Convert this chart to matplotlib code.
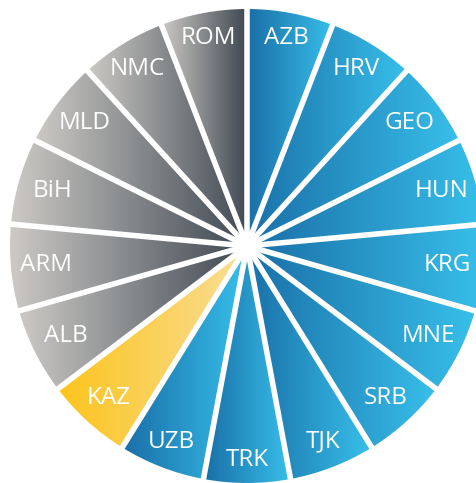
import numpy as np
import matplotlib.pyplot as plt
from matplotlib.colors import LinearSegmentedColormap

labels = ["AZB", "HRV", "GEO", "HUN", "KRG", "MNE", "SRB", "TJK", "TRK",
          "UZB", "KAZ", "ALB", "ARM", "BiH", "MLD", "NMC", "ROM"]
groups = ["blue"] * 10 + ["yellow"] + ["grey"] * 6
values = [1] * len(labels)

ramps = {
    "blue": ["#196ea6", "#38bfea"],
    "yellow": ["#fcc41c", "#f9de98"],
    "grey": ["#cdcac6", "#3e4751"],
}
cmaps = {k: LinearSegmentedColormap.from_list(k, v) for k, v in ramps.items()}

W, H = 476, 483
R = 237.0
cx, cy = 247, 237  # pie centre in pixels from bottom-left

fig = plt.figure(figsize=(W / 100, H / 100), dpi=100)
ax = fig.add_axes([0, 0, 1, 1])

wedges, texts = ax.pie(values, labels=labels, startangle=90, counterclock=False,
                       radius=1,
                       wedgeprops=dict(facecolor="none", edgecolor="none"),
                       textprops=dict(color="white", fontsize=17.5, family="Open Sans"))
ax.set_xlim(-cx / R, (W - cx) / R)
ax.set_ylim(-cy / R, (H - cy) / R)
ax.set_aspect("equal")
ax.axis("off")

grad = np.linspace(0, 1, 256).reshape(1, -1)
for w, g in zip(wedges, groups):
    ext = w.get_path().get_extents()
    im = ax.imshow(grad, cmap=cmaps[g], aspect="auto", interpolation="bilinear",
                   extent=[ext.x0, ext.x1, ext.y0, ext.y1], zorder=1)
    im.set_clip_path(w)

# labels sit a bit further in on the left/right sides (wider text boxes)
for w, t in zip(wedges, texts):
    mid = np.deg2rad((w.theta1 + w.theta2) / 2)
    r = 0.905 - 0.055 * abs(np.cos(mid))
    t.set_position((r * np.cos(mid), r * np.sin(mid)))
    t.set_ha("center")
    t.set_va("center")
    t.set_zorder(5)

# white separators
for w in wedges:
    a = np.deg2rad(w.theta1)
    ax.plot([0, 1.05 * np.cos(a)], [0, 1.05 * np.sin(a)], color="white",
            lw=4.0, solid_capstyle="butt", zorder=3)
ax.add_patch(plt.Circle((0, 0), 0.045, color="white", zorder=4))

fig.savefig("out.png", dpi=100)
